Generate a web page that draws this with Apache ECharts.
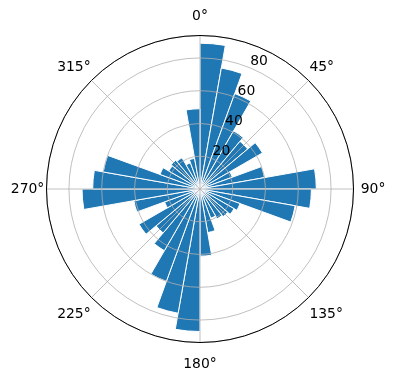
<!DOCTYPE html>
<html><head><meta charset="utf-8">
<script src="https://cdn.jsdelivr.net/npm/echarts@6/dist/echarts.min.js"></script>
<style>html,body{margin:0;padding:0;background:#fff}#c{width:396px;height:380px}</style>
</head><body><div id="c"></div>
<script>
// 36 direction bins of 10 degrees each, measured clockwise from north
const directions = ['0','10','20','30','40','50','60','70','80','90','100','110','120','130','140','150','160','170',
  '180','190','200','210','220','230','240','250','260','270','280','290','300','310','320','330','340','350'];
const counts = [89, 75, 62, 41, 38, 44, 21, 40, 71, 68, 59, 26, 24, 22, 21, 19, 27, 41,
  87, 77, 60, 43.5, 35, 43, 23, 41, 72, 65.5, 60, 26, 22, 23, 22, 17, 19, 49];
const angleTicks = [0, 45, 90, 135, 180, 225, 270, 315];
const radiusTickLabels = ['20', '40', '60', '80'];
const radiusMax = 93.7;

const center = [200, 189];
const radius = 153.5;
const font = 'DejaVu Sans';
const fs = 13.9;

// style key per angle label (matplotlib centres its theta labels; emulate with padding)
const angleStyleKey = {0: 'n', 45: 'du', 90: 'e', 135: 'dd', 180: 's', 225: 'dd', 270: 'w', 315: 'du'};
const base = {color: '#000', fontFamily: font, fontSize: fs};

const chart = echarts.init(document.getElementById('c'), null, {renderer: 'canvas'});
chart.setOption({
  animation: false,
  backgroundColor: '#fff',
  polar: [
    {center: center, radius: radius},
    {center: center, radius: radius},
    {center: center, radius: radius}
  ],
  angleAxis: [
    { // grid + angle labels
      polarIndex: 0, type: 'value', min: 0, max: 360, interval: 45,
      startAngle: 90, clockwise: true, z: 10,
      axisLine: {show: true, lineStyle: {color: '#000', width: 1}},
      axisTick: {show: false},
      splitLine: {show: true, lineStyle: {color: '#b0b0b0', width: 0.8}},
      axisLabel: {
        show: true, margin: 1.2, color: '#000', fontFamily: font, fontSize: fs,
        formatter: v => angleTicks.indexOf(v) >= 0 ? '{' + angleStyleKey[v] + '|' + v + '°}' : '',
        rich: {
          n: Object.assign({padding: [0, 0, 11, 0]}, base),
          s: Object.assign({padding: [14, 0, 0, 0]}, base),
          e: Object.assign({padding: [0, 0, 0, 6]}, base),
          w: Object.assign({padding: [0, 1, 0, 0]}, base),
          du: Object.assign({padding: [0, 0, 5, 0]}, base),
          dd: Object.assign({padding: [9, 0, 0, 0]}, base)
        }
      }
    },
    { // bars
      polarIndex: 1, type: 'category', data: directions, startAngle: 90, clockwise: true,
      boundaryGap: true, show: false
    },
    { // radius labels position (22.5 deg clockwise from north)
      polarIndex: 2, type: 'value', min: 0, max: 360, startAngle: 67.5, clockwise: true, show: false
    }
  ],
  radiusAxis: [
    {
      polarIndex: 0, type: 'value', min: 0, max: radiusMax, interval: 20, z: 10,
      axisLine: {show: false}, axisTick: {show: false}, axisLabel: {show: false},
      splitLine: {show: true, lineStyle: {color: '#b0b0b0', width: 0.8}}
    },
    {
      polarIndex: 1, type: 'value', min: 0, max: radiusMax, show: false
    },
    {
      polarIndex: 2, type: 'value', min: 0, max: radiusMax, interval: 20, z: 11,
      axisLine: {show: false}, axisTick: {show: false}, splitLine: {show: false},
      axisLabel: {
        show: true, margin: 0, rotate: 0, align: 'left', verticalAlign: 'bottom',
        color: '#000', fontFamily: font, fontSize: fs,
        formatter: v => radiusTickLabels.indexOf(String(v)) >= 0 ? String(v) : ''
      }
    }
  ],
  series: [{
    type: 'bar', coordinateSystem: 'polar', polarIndex: 1,
    data: counts, barCategoryGap: '0%', barGap: '0%',
    itemStyle: {color: '#1f77b4', borderColor: '#ffffff', borderWidth: 1},
    z: 2
  }]
});
</script>
</body></html>
